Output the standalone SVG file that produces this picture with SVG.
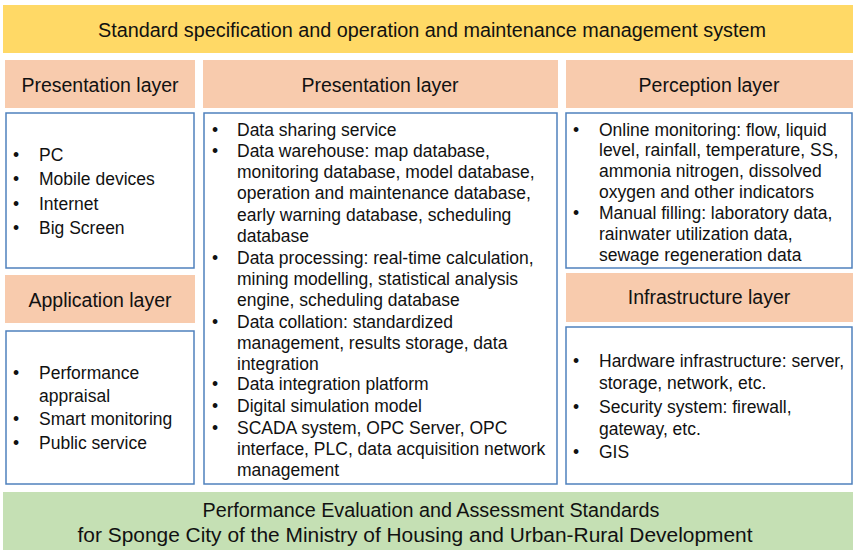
<svg xmlns="http://www.w3.org/2000/svg" width="853" height="550" viewBox="0 0 853 550">
<style>
.bar-y{fill:#ffd966}
.bar-g{fill:#c5e0b4}
.hdr{fill:#f8cbad}
.box{fill:#ffffff;stroke:#4f81bd;stroke-width:1.5}
.t{font-family:"Liberation Sans",Arial,sans-serif;fill:#111}
.h{font-size:19.5px;text-anchor:middle}
.b{font-size:17.5px}
.ban{font-size:20px;text-anchor:middle}
</style>
<rect width="853" height="550" fill="#ffffff"/>
<g id="top-bar">
<rect class="bar-y" x="3" y="5" width="850" height="48"/>
<text class="t ban" x="432" y="37" textLength="668" lengthAdjust="spacingAndGlyphs">Standard specification and operation and maintenance management system</text>
</g>
<g id="presentation-left">
<rect class="hdr" x="5" y="60" width="190" height="48"/>
<text class="t h" x="100" y="92">Presentation layer</text>
<rect class="box" x="6" y="113" width="188" height="155"/>
<text class="t b"><tspan x="13" y="161">•</tspan><tspan x="39" y="161">PC</tspan><tspan x="13" y="185">•</tspan><tspan x="39" y="185">Mobile devices</tspan><tspan x="13" y="210">•</tspan><tspan x="39" y="210">Internet</tspan><tspan x="13" y="234">•</tspan><tspan x="39" y="234">Big Screen</tspan></text>
</g>
<g id="application">
<rect class="hdr" x="5" y="275" width="190" height="48"/>
<text class="t h" x="100" y="307">Application layer</text>
<rect class="box" x="6" y="331" width="188" height="153"/>
<text class="t b"><tspan x="13" y="379">•</tspan><tspan x="39" y="379">Performance</tspan><tspan x="39" y="402">appraisal</tspan><tspan x="13" y="425">•</tspan><tspan x="39" y="425">Smart monitoring</tspan><tspan x="13" y="449">•</tspan><tspan x="39" y="449">Public service</tspan></text>
</g>
<g id="presentation-middle">
<rect class="hdr" x="203" y="60" width="355" height="48"/>
<text class="t h" x="380" y="92">Presentation layer</text>
<rect class="box" x="204" y="113" width="353" height="371"/>
<text class="t b">
<tspan x="212" y="136">•</tspan><tspan x="237" y="136">Data sharing service</tspan>
<tspan x="212" y="157">•</tspan><tspan x="237" y="157">Data warehouse: map database,</tspan>
<tspan x="237" y="178">monitoring database, model database,</tspan>
<tspan x="237" y="199">operation and maintenance database,</tspan>
<tspan x="237" y="221">early warning database, scheduling</tspan>
<tspan x="237" y="242">database</tspan>
<tspan x="212" y="264">•</tspan><tspan x="237" y="264">Data processing: real-time calculation,</tspan>
<tspan x="237" y="285">mining modelling, statistical analysis</tspan>
<tspan x="237" y="306">engine, scheduling database</tspan>
<tspan x="212" y="328">•</tspan><tspan x="237" y="328">Data collation: standardized</tspan>
<tspan x="237" y="349">management, results storage, data</tspan>
<tspan x="237" y="370">integration</tspan>
<tspan x="212" y="390">•</tspan><tspan x="237" y="390">Data integration platform</tspan>
<tspan x="212" y="412">•</tspan><tspan x="237" y="412">Digital simulation model</tspan>
<tspan x="212" y="434">•</tspan><tspan x="237" y="434">SCADA system, OPC Server, OPC</tspan>
<tspan x="237" y="455">interface, PLC, data acquisition network</tspan>
<tspan x="237" y="476">management</tspan>
</text>
</g>
<g id="perception">
<rect class="hdr" x="566" y="60" width="287" height="48"/>
<text class="t h" x="709" y="92">Perception layer</text>
<rect class="box" x="566" y="113" width="286" height="155"/>
<text class="t b">
<tspan x="573" y="136">•</tspan><tspan x="599" y="136">Online monitoring: flow, liquid</tspan>
<tspan x="599" y="156">level, rainfall, temperature, SS,</tspan>
<tspan x="599" y="177">ammonia nitrogen, dissolved</tspan>
<tspan x="599" y="198">oxygen and other indicators</tspan>
<tspan x="573" y="219">•</tspan><tspan x="599" y="219">Manual filling: laboratory data,</tspan>
<tspan x="599" y="240">rainwater utilization data,</tspan>
<tspan x="599" y="261">sewage regeneration data</tspan>
</text>
</g>
<g id="infrastructure">
<rect class="hdr" x="566" y="273" width="287" height="49"/>
<text class="t h" x="709" y="304">Infrastructure layer</text>
<rect class="box" x="566" y="327" width="286" height="157"/>
<text class="t b">
<tspan x="573" y="367">•</tspan><tspan x="599" y="367">Hardware infrastructure: server,</tspan>
<tspan x="599" y="389">storage, network, etc.</tspan>
<tspan x="573" y="413">•</tspan><tspan x="599" y="413">Security system: firewall,</tspan>
<tspan x="599" y="435">gateway, etc.</tspan>
<tspan x="573" y="458">•</tspan><tspan x="599" y="458">GIS</tspan>
</text>
</g>
<g id="bottom-bar">
<rect class="bar-g" x="3" y="492" width="850" height="58"/>
<text class="t ban" x="431" y="517" textLength="457" lengthAdjust="spacingAndGlyphs">Performance Evaluation and Assessment Standards</text>
<text class="t ban" x="415" y="542" textLength="675" lengthAdjust="spacingAndGlyphs">for Sponge City of the Ministry of Housing and Urban-Rural Development</text>
</g>
<g id="connectors"></g>
</svg>
